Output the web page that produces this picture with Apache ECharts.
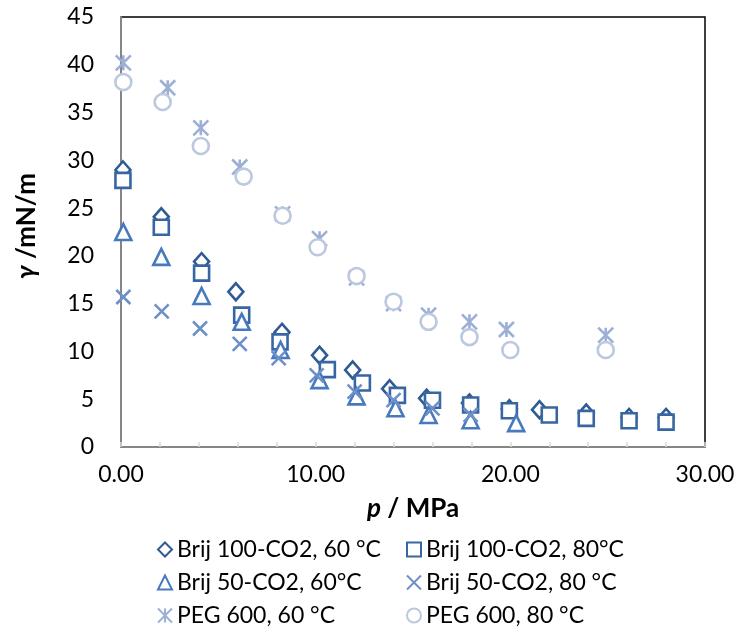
<!DOCTYPE html>
<html>
<head>
<meta charset="utf-8">
<script src="https://cdn.jsdelivr.net/npm/echarts@6/dist/echarts.min.js"></script>
<style>html,body{margin:0;padding:0;background:#fff}#c{width:740px;height:630px}</style>
</head>
<body>
<div id="c"></div>
<script>
// Data
const seriesNames = ['Brij 100-CO2, 60 °C', 'Brij 100-CO2, 80°C', 'Brij 50-CO2, 60°C', 'Brij 50-CO2, 80 °C', 'PEG 600, 60 °C', 'PEG 600, 80 °C'];
const brij100_60_x = [0.1, 2.07, 4.14, 5.9, 8.27, 10.2, 11.9, 13.8, 15.7, 17.9, 19.95, 21.5, 23.9, 26.1, 28.0];
const brij100_60_y = [29.0, 24.1, 19.4, 16.25, 12.0, 9.6, 8.05, 6.1, 5.1, 4.6, 4.0, 3.9, 3.55, 3.1, 3.1];
const brij100_80_x = [0.1, 2.07, 4.14, 6.2, 8.17, 10.6, 12.4, 14.2, 16.0, 17.96, 19.95, 22.0, 23.9, 26.1, 28.0];
const brij100_80_y = [27.9, 23.0, 18.2, 13.8, 11.0, 8.1, 6.7, 5.4, 4.9, 4.4, 3.8, 3.35, 3.0, 2.75, 2.6];
const brij50_60_x = [0.12, 2.07, 4.14, 6.2, 8.2, 10.2, 12.1, 14.1, 15.8, 17.96, 20.3];
const brij50_60_y = [22.5, 19.9, 15.8, 13.1, 10.15, 7.0, 5.3, 4.05, 3.35, 2.8, 2.5];
const brij50_80_x = [0.12, 2.09, 4.06, 6.1, 8.1, 10.05, 12.0, 14.0, 16.0, 17.96];
const brij50_80_y = [15.7, 14.2, 12.4, 10.8, 9.3, 7.5, 5.8, 4.9, 4.05, 3.35];
const peg_60_x = [0.12, 2.4, 4.1, 6.1, 8.3, 10.2, 12.1, 14.0, 15.8, 17.9, 19.8, 24.9];
const peg_60_y = [40.2, 37.6, 33.4, 29.3, 24.4, 21.8, 17.7, 15.0, 13.8, 13.1, 12.3, 11.7];
const peg_80_x = [0.12, 2.14, 4.1, 6.3, 8.3, 10.1, 12.1, 14.0, 15.8, 17.9, 20.0, 24.9];
const peg_80_y = [38.2, 36.1, 31.5, 28.3, 24.2, 20.9, 17.9, 15.2, 13.1, 11.5, 10.15, 10.15];
const xTickLabels = ['0.00', '10.00', '20.00', '30.00'];

const FONT = 'Lato';
const pair = (xs, ys) => xs.map((x, i) => [x, ys[i]]);
const colors = ['#2F5A93', '#3866A3', '#4679BD', '#6E90C9', '#9CB0D6', '#BCC8E0'];
const symbols = ['diamond', 'rect', 'triangle', 'path://M0,0L10,10M10,0L0,10', 'path://M0,0L10,10M10,0L0,10M5,0L5,10', 'circle'];
const sizes = [[15, 17], 15, 16, 14, 15, 16];
const dataSets = [pair(brij100_60_x, brij100_60_y), pair(brij100_80_x, brij100_80_y), pair(brij50_60_x, brij50_60_y), pair(brij50_80_x, brij50_80_y), pair(peg_60_x, peg_60_y), pair(peg_80_x, peg_80_y)];

const series = seriesNames.map((n, i) => ({
  name: n, type: 'scatter', data: dataSets[i], symbol: symbols[i], symbolSize: sizes[i],
  itemStyle: { color: '#fff', borderColor: colors[i], borderWidth: 2.6, opacity: 1 },
  emphasis: { disabled: true }
}));

const legendPos = [[157, 538], [406, 538], [157, 571], [406, 571], [157, 604], [406, 604]];
const legends = seriesNames.map((n, i) => ({
  data: [n], left: legendPos[i][0], top: legendPos[i][1], padding: 0, itemWidth: 14, itemHeight: 14, itemGap: 5,
  selectedMode: false, textStyle: { fontFamily: FONT, fontSize: 23, color: '#000' }
}));

const chart = echarts.init(document.getElementById('c'));
chart.setOption({
  animation: false,
  backgroundColor: '#fff',
  grid: { left: 121, right: 35, top: 17, bottom: 183, show: true, borderColor: '#000', borderWidth: 1.5 },
  xAxis: {
    type: 'value', min: 0, max: 30, interval: 10,
    axisLine: { show: true, lineStyle: { color: '#868686', width: 2 } },
    axisTick: { show: true, inside: true, length: 5, lineStyle: { color: '#d9d9d9', width: 1.5 } },
    minorTick: { show: true, splitNumber: 5, length: 5, lineStyle: { color: '#d9d9d9', width: 1.5 } },
    splitLine: { show: false },
    axisLabel: { margin: 16, fontFamily: FONT, fontSize: 23, color: '#000', formatter: (v) => xTickLabels[Math.round(v / 10)] }
  },
  yAxis: {
    type: 'value', min: 0, max: 45, interval: 5,
    axisLine: { show: true, lineStyle: { color: '#868686', width: 2 } },
    axisTick: { show: false },
    splitLine: { show: false },
    axisLabel: { margin: 27, fontFamily: FONT, fontSize: 23, color: '#000' }
  },
  legend: legends,
  graphic: [
    { type: 'text', x: 413, y: 509, style: { text: '{i|p} / MPa', align: 'center', verticalAlign: 'middle', fontFamily: FONT, fontSize: 26, fontWeight: 'bold', fill: '#000',
      rich: { i: { fontFamily: FONT, fontSize: 26, fontWeight: 'bold', fontStyle: 'italic', fill: '#000' } } } },
    { type: 'text', x: 27, y: 226, rotation: Math.PI / 2, style: { text: '{i|γ} /mN/m', align: 'center', verticalAlign: 'middle', fontFamily: FONT, fontSize: 26, fontWeight: 'bold', fill: '#000',
      rich: { i: { fontFamily: FONT, fontSize: 26, fontWeight: 'bold', fontStyle: 'italic', fill: '#000' } } } }
  ],
  series: series
});
</script>
</body>
</html>
